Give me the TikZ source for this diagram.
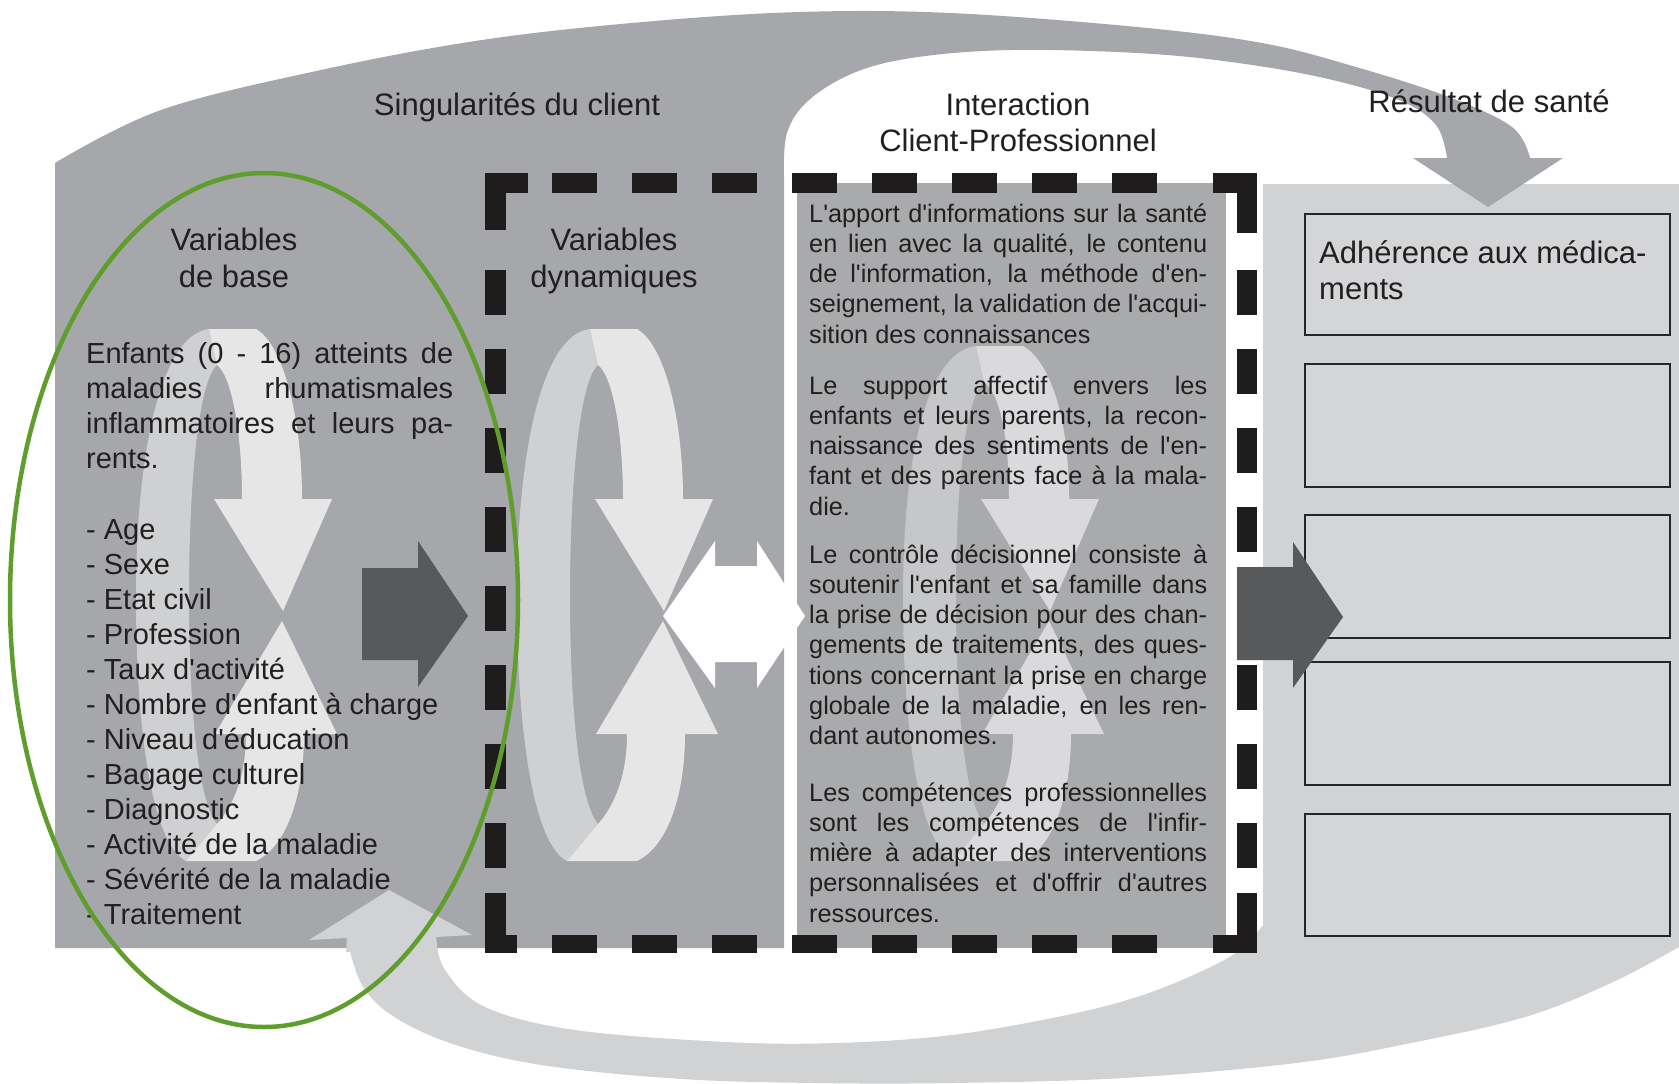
\documentclass[tikz,border=0pt]{standalone}
\usepackage{fontspec}
\newfontfamily\lib{Liberation Sans}
\definecolor{bgdark}{RGB}{165,167,170}
\definecolor{boxmid}{RGB}{169,170,172}
\definecolor{bglight}{RGB}{208,210,212}
\definecolor{boxfill}{RGB}{212,213,215}
\definecolor{ringL}{RGB}{207,208,210}
\definecolor{ringW}{RGB}{230,230,231}
\definecolor{ringLb}{RGB}{198,199,201}
\definecolor{ringWb}{RGB}{218,218,220}
\definecolor{darkarr}{RGB}{88,89,91}
\definecolor{dashc}{RGB}{30,28,29}
\definecolor{txtcol}{RGB}{35,31,32}
\definecolor{ellcol}{RGB}{95,158,45}
\newcommand{\myjust}[1]{\makebox[\linewidth][s]{#1}\\}
\newcommand{\mylast}[1]{\makebox[\linewidth][l]{#1}}
\newcommand{\ringshape}[4]{%
\begin{scope}[shift={(#1,0)}]
\fill[#2] (590,#4) .. controls (540,{#4+6}) and (517,460) .. (517,596)
  .. controls (517,740) and (535,845) .. (567,861) -- (598,824)
  .. controls (578,800) and (570,700) .. (570,596)
  .. controls (570,480) and (580,{#4+51}) .. (598,{#4+36}) -- cycle;
\fill[#3] (590,#4) -- (637,#4) .. controls (665,{#4+16}) and (683,420) .. (683,499)
  -- (713,499) -- (664,611) -- (595,499) -- (623,499)
  .. controls (623,430) and (612,{#4+46}) .. (598,{#4+36}) -- cycle;
\fill[#3] (596,734) -- (663,621) -- (718,734) -- (685,734)
  .. controls (685,790) and (670,845) .. (637,861) -- (567,861) -- (598,824)
  .. controls (615,805) and (627,775) .. (627,734) -- cycle;
\end{scope}}
\begin{document}
\begin{tikzpicture}[x=1pt,y=-1pt,font=\lib,
  txt/.style={inner sep=0pt,text=txtcol},
  hdr/.style={txt,anchor=base,font=\lib\fontsize{31}{37}\selectfont},
  para/.style={txt,anchor=base west},
  resbox/.style={draw=black!85,line width=2pt,fill=boxfill}]
\useasboundingbox (0,0) rectangle (1679,1084);
\fill[white] (0,0) rectangle (1679,1084);
% light region with bottom arc
\fill[bglight] (1263,184) -- (1679,184) -- (1679,947)
  -- plot[smooth,tension=0.6] coordinates {(1679,947) (1611,983) (1525,1017) (1411,1043) (1296,1063) (1124,1078) (952,1083) (816,1083) (682,1079) (548,1066) (459,1046) (396,1018) (362,985) (347,938)}
  -- (309,940) -- (389,890) -- (472,935) -- (436,937)
  -- plot[smooth,tension=0.6] coordinates {(436,937) (445,970) (485,1007) (575,1030) (726,1042) (837,1043) (952,1035) (1067,1015) (1140,996) (1200,972) (1240,950) (1263,925)}
  -- cycle;
% big dark grey shape with top arc
\fill[bgdark] (55,948) -- (55,163)
  -- plot[smooth,tension=0.6] coordinates {(55,163) (161,110) (321,70) (482,40) (643,22) (800,12) (950,13) (1137,27) (1262,43) (1356,67) (1449,97) (1512,127) (1530,158)}
  -- (1563,158) -- (1488,207) -- (1413,158) -- (1447,158)
  -- plot[smooth,tension=0.6] coordinates {(1447,158) (1436,125) (1399,100) (1324,78) (1231,62) (1137,53) (1012,50) (918,57) (856,72) (809,100) (787,133) (784,177)}
  -- (784,948) -- cycle;
% interaction box
\fill[boxmid] (797,183) rectangle (1226,948);
% bottom arc arrowhead on top
\fill[bglight] (309,940) -- (389,890) -- (472,935) -- (436,937) -- (438,952) -- (346,952) -- (347,938) -- cycle;
% rings
\ringshape{-381}{ringL}{ringW}{329}
\ringshape{0}{ringL}{ringW}{329}
\ringshape{386}{ringLb}{ringWb}{346}
% arrows
\fill[darkarr] (362,568) -- (418,568) -- (418,541) -- (468,616) -- (418,687) -- (418,660) -- (362,660) -- cycle;
\fill[white] (663,616) -- (715,541) -- (715,566) -- (757,566) -- (757,541) -- (805,616) -- (757,688) -- (757,662) -- (715,662) -- (715,688) -- cycle;
% result boxes
\foreach \t/\b in {214/335,364/487,515/638,662/785,814/936}
  \draw[resbox] (1305,\t) rectangle (1670,\b);
% dashed frame
\foreach \k in {0,...,7} {
  \fill[dashc] ({552+80*\k},173) rectangle ({597+80*\k},193);
  \fill[dashc] ({552+80*\k},935) rectangle ({597+80*\k},953);
}
\foreach \y in {270,349,428,507,586,665,744,823} {
  \fill[dashc] (485,\y) rectangle (506,{\y+45});
  \fill[dashc] (1237,\y) rectangle (1257,{\y+45});
}
\fill[dashc] (485,173) rectangle (528,193);
\fill[dashc] (485,173) rectangle (506,230);
\fill[dashc] (1213,173) rectangle (1257,193);
\fill[dashc] (1237,173) rectangle (1257,233);
\fill[dashc] (485,935) rectangle (517,953);
\fill[dashc] (485,893) rectangle (506,953);
\fill[dashc] (1213,935) rectangle (1257,953);
\fill[dashc] (1237,893) rectangle (1257,953);
% arrow to results
\fill[darkarr] (1237,567) -- (1293,567) -- (1293,542) -- (1343,617) -- (1293,688) -- (1293,660) -- (1237,660) -- cycle;
% headings
\node[hdr] (sing) at (517,115) {Singularités du client};
\node[hdr] (inter1) at (1018,115) {Interaction};
\node[hdr] (inter2) at (1018,151) {Client-Professionnel};
\node[hdr] (res) at (1489,112) {Résultat de santé};
\node[hdr] (vb1) at (234,250) {Variables};
\node[hdr] (vb2) at (234,287) {de base};
\node[hdr] (vd1) at (614,250) {Variables};
\node[hdr] (vd2) at (614,287) {dynamiques};
% column 1 text
\node[para] (enf) at (86,363) {\parbox[t]{367pt}{\fontsize{29}{35.3}\selectfont
\myjust{Enfants (0 - 16) atteints de}\myjust{maladies rhumatismales}\myjust{inflammatoires et leurs pa-}\mylast{rents.}}};
\node[para] (list) at (86,539) {\parbox[t]{420pt}{\raggedright\fontsize{29}{35}\selectfont
- Age\\- Sexe\\- Etat civil\\- Profession\\- Taux d'activité\\- Nombre d'enfant à charge\\- Niveau d'éducation\\- Bagage culturel\\- Diagnostic\\- Activité de la maladie\\- Sévérité de la maladie\\- Traitement}};
% column 3 text
\node[para] (p1) at (809,222) {\parbox[t]{398pt}{\fontsize{25.3}{30.3}\selectfont
\myjust{L'apport d'informations sur la santé}\myjust{en lien avec la qualité, le contenu}\myjust{de l'information, la méthode d'en-}\myjust{seignement, la validation de l'acqui-}\mylast{sition des connaissances}}};
\node[para] (p2) at (809,394) {\parbox[t]{398pt}{\fontsize{25.3}{30.3}\selectfont
\myjust{Le support affectif envers les}\myjust{enfants et leurs parents, la recon-}\myjust{naissance des sentiments de l'en-}\myjust{fant et des parents face à la mala-}\mylast{die.}}};
\node[para] (p3) at (809,563) {\parbox[t]{398pt}{\fontsize{25.3}{30.3}\selectfont
\myjust{Le contrôle décisionnel consiste à}\myjust{soutenir l'enfant et sa famille dans}\myjust{la prise de décision pour des chan-}\myjust{gements de traitements, des ques-}\myjust{tions concernant la prise en charge}\myjust{globale de la maladie, en les ren-}\mylast{dant autonomes.}}};
\node[para] (p4) at (809,801) {\parbox[t]{398pt}{\fontsize{25.3}{30.3}\selectfont
\myjust{Les compétences professionnelles}\myjust{sont les compétences de l'infir-}\myjust{mière à adapter des interventions}\myjust{personnalisées et d'offrir d'autres}\mylast{ressources.}}};
% result box text
\node[para,font=\lib\fontsize{31}{37}\selectfont] (adh1) at (1319,263) {Adhérence aux médica-};
\node[para,font=\lib\fontsize{31}{37}\selectfont] (adh2) at (1319,299) {ments};
% green ellipse
\draw[ellcol,line width=4.5pt] (264,600) ellipse [x radius=254, y radius=427];
\end{tikzpicture}
\end{document}
